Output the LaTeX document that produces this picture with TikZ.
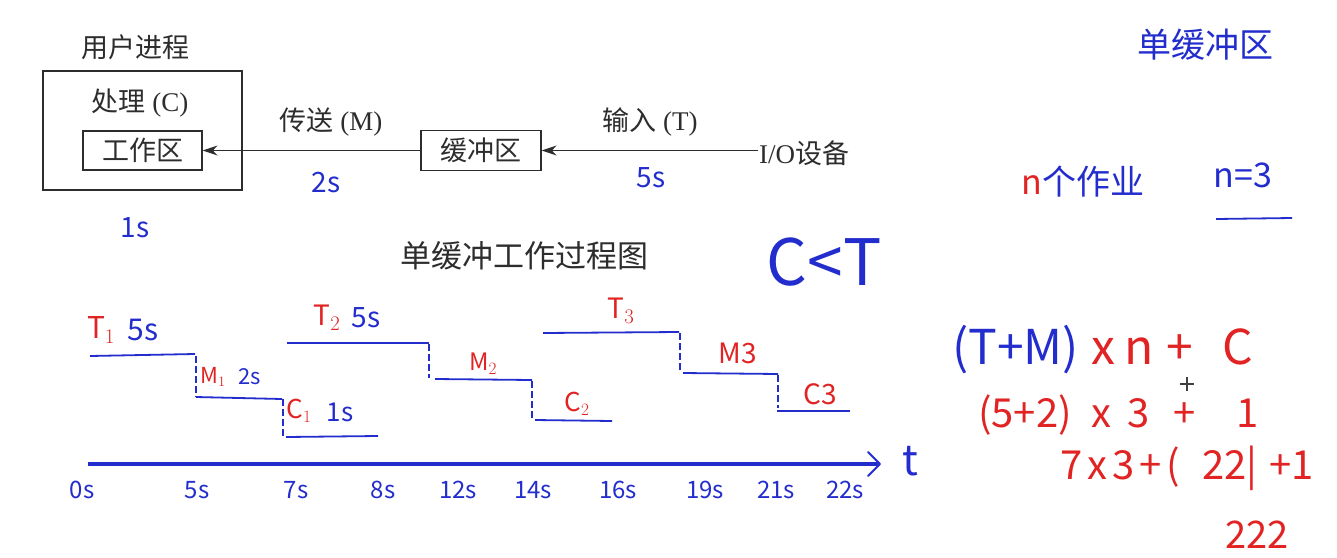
\documentclass[tikz,border=0pt]{standalone}
\usepackage{fontspec}
\setmainfont{Liberation Serif}
\newfontfamily\cjk{Noto Sans CJK SC}
\newfontfamily\hand{Noto Sans CJK SC}
\usetikzlibrary{arrows.meta}
\newcommand{\zh}[1]{{\cjk #1}}
\definecolor{inkblue}{RGB}{35,45,205}
\definecolor{inkred}{RGB}{225,35,35}
\definecolor{typed}{RGB}{45,45,45}
\tikzset{
  typedtxt/.style={text=typed, font=\fontsize{27}{30}\selectfont, inner sep=1pt},
  frame/.style={draw=typed, line width=1.3pt, inner sep=0pt},
  feed/.style={draw=typed, line width=1.2pt, -{Stealth[length=15pt,width=10pt]}},
  hb/.style={text=inkblue, font=\hand\fontsize{#1}{#1}\selectfont, inner sep=0pt},
  hr/.style={text=inkred, font=\hand\fontsize{#1}{#1}\selectfont, inner sep=0pt},
  stepline/.style={draw=inkblue, line width=1.8pt},
  dropline/.style={draw=inkblue, line width=1.2pt, dash pattern=on 7pt off 3pt},
  axisline/.style={draw=inkblue, line width=3.5pt},
  crosshair/.style={draw=black!75, line width=1.3pt}
}
\begin{document}
\begin{tikzpicture}[x=1pt,y=-1pt]
\useasboundingbox[fill=white] (0,0) rectangle (1337,557);

% ---- block diagram ----
\node[typedtxt] (user) at (135,47) {\zh{用户进程}};
\node[frame, minimum width=199pt, minimum height=119pt] (outer) at (142.5,130.5) {};
\node[typedtxt] (proc) at (140,103) {\zh{处理} (C)};
\node[frame, typedtxt, inner sep=0pt, minimum width=119pt, minimum height=39pt] (work) at (142.5,150.5) {\zh{工作区}};
\node[frame, typedtxt, inner sep=0pt, minimum width=120pt, minimum height=40pt] (buf) at (481,150.5) {\zh{缓冲区}};
\node[typedtxt, anchor=west] (io) at (758,153) {I/O\zh{设备}};
\coordinate (iol) at (io.west |- buf.east);
\draw[feed] (buf.west) -- (work.east);
\draw[feed] (iol) -- (buf.east);
\node[typedtxt] (mlab) at (331,122) {\zh{传送} (M)};
\node[typedtxt] (tlab) at (650,122) {\zh{输入} (T)};

% handwritten notes near diagram
\node[hb=28] (m2s) at (326,183) {2s};
\node[hb=28] (t5s) at (651,178) {5s};
\node[hb=28] (c1s) at (135,228) {1s};

\node[typedtxt, font=\fontsize{31}{34}\selectfont] (title) at (524,256) {\zh{单缓冲工作过程图}};
\node[hb=64] (ct) at (824,262) {C<T};

% right-hand notes
\node[hb=34] (sb) at (1205,45) {单缓冲区};
\node[hb=34] (nj) at (1083,182) {\textcolor{inkred}{n}个作业};
\node[hb=34] (n3) at (1243,175) {n=3};
\draw[inkblue, line width=1.8pt] (1216,219) -- (1292,218);

\node[anchor=west, inner sep=0pt, font=\hand\fontsize{48}{48}\selectfont] (f1) at (952,350)
  {\textcolor{inkblue}{(T+M)}\hspace{12pt}\textcolor{inkred}{x\hspace{10pt}n\hspace{12pt}+\hspace{30pt}C}};
% mouse cursor crosshair
\coordinate (cur) at (1187,384);
\draw[crosshair] ([xshift=-7pt]cur) -- ([xshift=7pt]cur);
\draw[crosshair] ([yshift=-7pt]cur) -- ([yshift=7pt]cur);
\node[hr=40, anchor=west] (f2) at (978,415) {(5+2)\hspace{20pt}x\hspace{16pt}3\hspace{24pt}+\hspace{40pt}1};
\node[hr=40, anchor=west] (f3) at (1060,468) {7\hspace{5pt}x\hspace{5pt}3\hspace{5pt}+\hspace{5pt}(\hspace{22pt}22|\hspace{12pt}+1};
\node[hr=38] (f4) at (1257,535) {222};

% ---- timeline ----
\draw[axisline] (88,464) -- (878,464);
\draw[inkblue, line width=2pt, line cap=round, line join=round] (868,452) -- (880,464) -- (868,476);
\node[hb=42] (tt) at (910,461) {t};
\foreach \x/\lab in {82/0s,197/5s,296/7s,383/8s,458/12s,533/14s,618/16s,705/19s,776/21s,845/22s}
  \node[hb=24] at (\x,490) {\lab};

% job 1
\draw[stepline] (90,356) -- (195,354);
\draw[dropline] (196,356) -- (196,397);
\draw[stepline] (196,397) -- (282,399);
\draw[dropline] (283,399) -- (283,437);
\draw[stepline] (286,437) -- (378,436);
% job 2
\draw[stepline] (287,343) -- (429,343);
\draw[dropline] (429,344) -- (429,378);
\draw[stepline] (435,379) -- (532,380);
\draw[dropline] (532,381) -- (532,418);
\draw[stepline] (535,420) -- (612,421);
% job 3
\draw[stepline] (543,333) -- (679,332);
\draw[dropline] (680,333) -- (680,373);
\draw[stepline] (683,373) -- (778,374);
\draw[dropline] (778,375) -- (778,408);
\draw[stepline] (777,411) -- (850,411);

% step labels
\node[hr=30] (T1) at (101,330) {T$_1$};
\node[hb=30] at (143,330) {5s};
\node[hr=22] (M1) at (213,377) {M$_1$};
\node[hb=22] at (250,377) {2s};
\node[hr=26] (C1) at (299,411) {C$_1$};
\node[hb=26] at (340,412) {1s};
\node[hr=28] (T2) at (327,318) {T$_2$};
\node[hb=28] at (366,318) {5s};
\node[hr=24] (M2) at (483,364) {M$_2$};
\node[hr=26] (C2) at (577,404) {C$_2$};
\node[hr=28] (T3) at (621,311) {T$_3$};
\node[hr=28] (M3) at (738,353) {M3};
\node[hr=28] (C3) at (820,394) {C3};
\end{tikzpicture}
\end{document}
